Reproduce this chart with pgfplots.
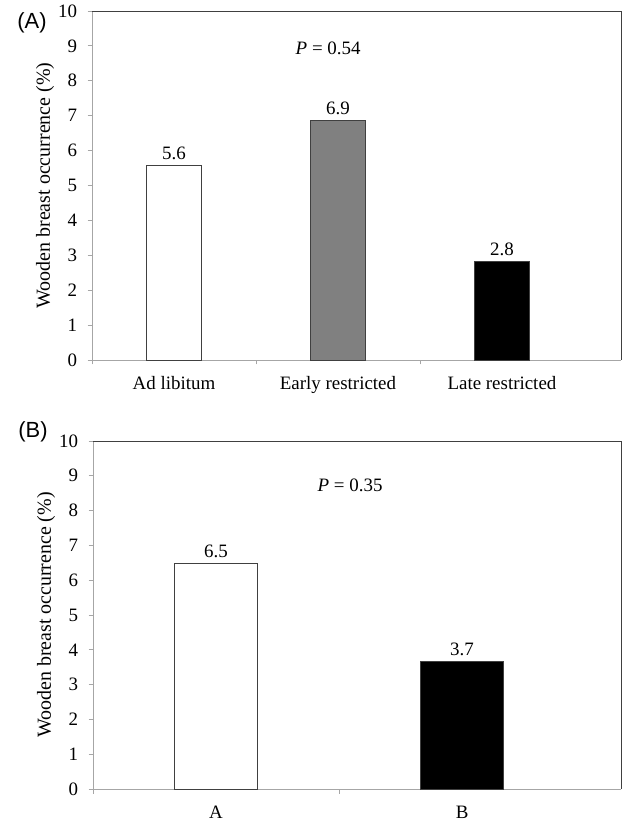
\documentclass[border=0pt]{standalone}
\usepackage{pgfplots}
\pgfplotsset{compat=1.18}
\usepackage{fontspec}
\setmainfont{Liberation Serif}
\newfontfamily\arialfont{Liberation Sans}
\definecolor{axgray}{HTML}{A6A6A6}
\definecolor{framegray}{HTML}{404040}
\definecolor{bargray}{HTML}{808080}
\newcommand{\tf}{\fontsize{19}{22}\selectfont}
\pgfplotsset{panel/.style={
  scale only axis,
  ymin=0, ymax=10, ytick={0,1,...,10},
  axis x line*=bottom, axis y line*=left,
  axis line style={draw=axgray, line width=0.9bp, -},
  tick style={draw=axgray, line width=0.9bp},
  major tick length=4.5bp, tick align=outside,
  minor tick num=0,
  /pgf/number format/assume math mode=true,
  tick label style={font=\tf, text=black},
  yticklabel style={xshift=-7bp},
  xticklabel style={yshift=-13bp, text height=13bp, text depth=4bp},
  ylabel={Wooden breast occurrence (\%)},
  every axis y label/.style={at={(rel axis cs:0,0.5)}, rotate=90, anchor=center, yshift=47bp, font=\fontsize{20}{24}\selectfont},
  clip=false,
  every node near coord/.append style={font=\tf, text=black, inner sep=5bp},
}}
\begin{document}
\begin{tikzpicture}[x=1bp,y=1bp]
\path[use as bounding box] (0,0) rectangle (627,825);
% Panel A
\begin{axis}[panel,
  at={(92bp,465bp)}, anchor=south west,
  width=529bp, height=349bp,
  xmin=-0.5, xmax=2.726,
  xtick={-0.5,0.5,1.5}, xticklabels={},
  extra x ticks={0,1,2},
  extra x tick labels={Ad libitum,Early restricted,Late restricted},
  extra x tick style={major tick length=0pt, tick style={draw=none}},
]
\addplot[ybar, bar width=55bp, bar shift=0pt, fill=white, draw=framegray, line width=0.8bp,
  nodes near coords, point meta=explicit symbolic] coordinates {(0,5.57) [5.6]};
\addplot[ybar, bar width=55bp, bar shift=0pt, fill=bargray, draw=framegray, line width=0.8bp,
  nodes near coords, point meta=explicit symbolic] coordinates {(1,6.86) [6.9]};
\addplot[ybar, bar width=55bp, bar shift=0pt, fill=black, draw=framegray, line width=0.8bp,
  nodes near coords, point meta=explicit symbolic] coordinates {(2,2.82) [2.8]};
\draw[framegray, line width=0.9bp] (rel axis cs:0,1) -- (rel axis cs:1,1) -- (rel axis cs:1,0);
\node[font=\tf] at (axis cs:0.94,8.94) {\textit{P} = 0.54};
\end{axis}
% Panel B
\begin{axis}[panel,
  at={(93bp,36bp)}, anchor=south west,
  width=528bp, height=348bp,
  xmin=-0.5, xmax=1.646,
  xtick={-0.5,0.5}, xticklabels={},
  extra x ticks={0,1},
  extra x tick labels={A,B},
  extra x tick style={major tick length=0pt, tick style={draw=none}},
]
\addplot[ybar, bar width=83bp, bar shift=0pt, fill=white, draw=framegray, line width=0.8bp,
  nodes near coords, point meta=explicit symbolic] coordinates {(0,6.49) [6.5]};
\addplot[ybar, bar width=83bp, bar shift=0pt, fill=black, draw=framegray, line width=0.8bp,
  nodes near coords, point meta=explicit symbolic] coordinates {(1,3.67) [3.7]};
\draw[framegray, line width=0.9bp] (rel axis cs:0,1) -- (rel axis cs:1,1) -- (rel axis cs:1,0);
\node[font=\tf] at (axis cs:0.545,8.74) {\textit{P} = 0.35};
\end{axis}
\node[font=\arialfont\fontsize{22}{26}\selectfont] at (32,802) {(A)};
\node[font=\arialfont\fontsize{22}{26}\selectfont] at (33,393) {(B)};
\end{tikzpicture}
\end{document}
